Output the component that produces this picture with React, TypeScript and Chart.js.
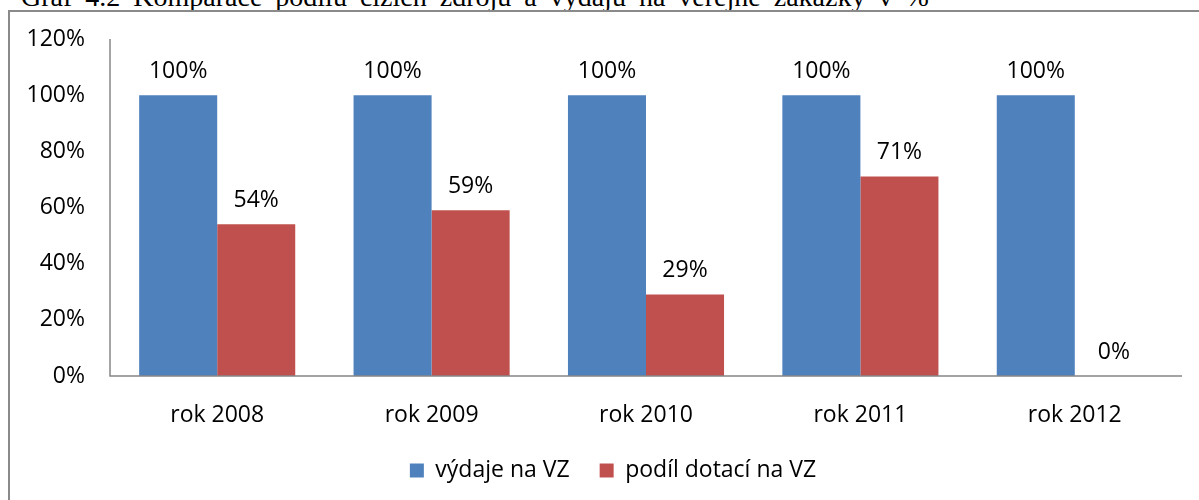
import React, { useEffect, useRef } from "react";
import { Chart, registerables } from "chart.js";

Chart.register(...registerables);

const categories = ["rok 2008", "rok 2009", "rok 2010", "rok 2011", "rok 2012"];
const vydajeNaVZ = [100, 100, 100, 100, 100];
const podilDotaciNaVZ = [54, 59, 29, 71, 0];
const seriesNames = ["výdaje na VZ", "podíl dotací na VZ"];
const yTicks = [0, 20, 40, 60, 80, 100, 120];
const titleText = "Graf 4.2 Komparace podílu cizích zdrojů a výdajů na veřejné zakázky v %";

const FONT = "'Open Sans', sans-serif";
const FS = 23;

const dataLabels = {
  id: "dataLabels",
  afterDatasetsDraw(chart: any) {
    const ctx = chart.ctx;
    ctx.save();
    ctx.font = `${FS}px ${FONT}`;
    ctx.fillStyle = "#000";
    ctx.textAlign = "center";
    ctx.textBaseline = "middle";
    chart.data.datasets.forEach((ds: any, di: number) => {
      const meta = chart.getDatasetMeta(di);
      meta.data.forEach((el: any, i: number) => {
        ctx.fillText(`${ds.data[i]}%`, el.x, el.y - 24);
      });
    });
    ctx.restore();
  },
};

const axisLines = {
  id: "axisLines",
  afterDraw(chart: any) {
    const { ctx, chartArea } = chart;
    ctx.save();
    ctx.strokeStyle = "#868686";
    ctx.lineWidth = 1.5;
    ctx.beginPath();
    ctx.moveTo(chartArea.left, chartArea.top);
    ctx.lineTo(chartArea.left, chartArea.bottom);
    ctx.lineTo(chartArea.right, chartArea.bottom);
    ctx.stroke();
    ctx.restore();
  },
};

const legendShift = {
  id: "legendShift",
  afterLayout(chart: any) {
    if (chart.legend) {
      chart.legend.left += 22;
      chart.legend.right += 22;
    }
  },
};

export default function App() {
  const ref = useRef<HTMLCanvasElement | null>(null);
  useEffect(() => {
    if (!ref.current) return;
    const chart = new Chart(ref.current, {
      type: "bar",
      data: {
        labels: categories,
        datasets: [
          { label: seriesNames[0], data: vydajeNaVZ, backgroundColor: "#4F81BD" },
          { label: seriesNames[1], data: podilDotaciNaVZ, backgroundColor: "#C0504D" },
        ],
      },
      options: {
        responsive: false,
        animation: false,
        layout: { padding: { left: 0, right: 17, top: 39, bottom: 8 } },
        datasets: { bar: { categoryPercentage: 0.728, barPercentage: 1 } },
        plugins: {
          legend: {
            position: "bottom",
            labels: {
              font: { family: FONT, size: FS },
              color: "#000",
              boxWidth: 14,
              boxHeight: 14,
              padding: 30,
            },
          },
          tooltip: { enabled: false },
        },
        scales: {
          x: {
            grid: { display: false, drawTicks: false },
            border: { display: false },
            ticks: { font: { family: FONT, size: FS }, color: "#000", padding: 26 },
            afterFit: (axis: any) => {
              axis.height = 53;
            },
          },
          y: {
            min: 0,
            max: 120,
            afterBuildTicks: (axis: any) => {
              axis.ticks = yTicks.map((v) => ({ value: v }));
            },
            grid: { display: false, drawTicks: false },
            border: { display: false },
            ticks: {
              font: { family: FONT, size: FS },
              color: "#000",
              padding: 25,
              callback: (v: any) => `${v}%`,
            },
            afterFit: (axis: any) => {
              axis.width = 110;
            },
          },
        },
      },
      plugins: [dataLabels, axisLines, legendShift],
    });
    return () => chart.destroy();
  }, []);

  return (
    <div
      style={{
        position: "fixed",
        left: 0,
        top: 0,
        width: 1199,
        height: 500,
        overflow: "hidden",
        background: "#fff",
      }}
    >
      <div
        style={{
          position: "absolute",
          left: 21,
          top: -18,
          fontFamily: "'Liberation Serif', 'Times New Roman', serif",
          fontSize: 28,
          lineHeight: "30px",
          wordSpacing: 6,
          whiteSpace: "nowrap",
          color: "#000",
        }}
      >
        {titleText}
      </div>
      <div
        style={{
          position: "absolute",
          left: 8,
          top: 10,
          width: 1400,
          height: 700,
          borderLeft: "2px solid #8a8a8a",
          borderTop: "2px solid #8a8a8a",
          background: "#fff",
        }}
      />
      <canvas ref={ref} width={1199} height={500} style={{ position: "absolute", left: 0, top: 0 }} />
    </div>
  );
}
